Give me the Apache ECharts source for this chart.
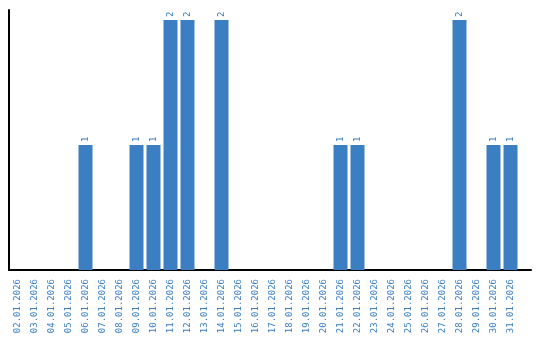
<!DOCTYPE html>
<html><head><meta charset="utf-8">
<script src="https://cdn.jsdelivr.net/npm/echarts@6/dist/echarts.min.js"></script>
<style>html,body{margin:0;padding:0;background:#fff}#c{width:540px;height:340px}</style>
</head><body><div id="c"></div>
<script>
var categories = ["02.01.2026","03.01.2026","04.01.2026","05.01.2026","06.01.2026","07.01.2026","08.01.2026","09.01.2026","10.01.2026","11.01.2026","12.01.2026","13.01.2026","14.01.2026","15.01.2026","16.01.2026","17.01.2026","18.01.2026","19.01.2026","20.01.2026","21.01.2026","22.01.2026","23.01.2026","24.01.2026","25.01.2026","26.01.2026","27.01.2026","28.01.2026","29.01.2026","30.01.2026","31.01.2026"];
var values = [0,0,0,0,1,0,0,1,1,2,2,0,2,0,0,0,0,0,0,1,1,0,0,0,0,0,2,0,1,1];
var BLUE = '#3b7ec2';
var FONT = 'DejaVu Sans Mono';
var chart = echarts.init(document.getElementById('c'));
chart.setOption({
  animation: false,
  grid: [
    {left: 9, width: 510, top: 10, height: 260},
    {left: 9, width: 522, top: 10, height: 260}
  ],
  xAxis: [
    {type: 'category', data: categories, gridIndex: 0,
     axisLine: {show: true, lineStyle: {color: '#000', width: 2}},
     axisTick: {show: false},
     axisLabel: {rotate: 90, color: BLUE, fontFamily: FONT, fontSize: 9, margin: 9, interval: 0}},
    {type: 'category', data: [''], gridIndex: 1,
     axisLine: {show: true, lineStyle: {color: '#000', width: 2}},
     axisTick: {show: false}, axisLabel: {show: false}}
  ],
  yAxis: [
    {type: 'value', gridIndex: 0, min: 0, max: 2.08,
     axisLine: {show: true, lineStyle: {color: '#000', width: 2}},
     axisTick: {show: false}, axisLabel: {show: false}, splitLine: {show: false}},
    {type: 'value', gridIndex: 1, show: false}
  ],
  series: [{
    type: 'bar', xAxisIndex: 0, yAxisIndex: 0,
    data: values.map(function(v){ return v === 0 ? null : v; }),
    barWidth: 14,
    itemStyle: {color: BLUE},
    label: {show: true, position: 'top', rotate: 90, align: 'left', verticalAlign: 'middle',
            distance: 3, color: BLUE, fontFamily: FONT, fontSize: 9}
  }]
});
</script></body></html>
